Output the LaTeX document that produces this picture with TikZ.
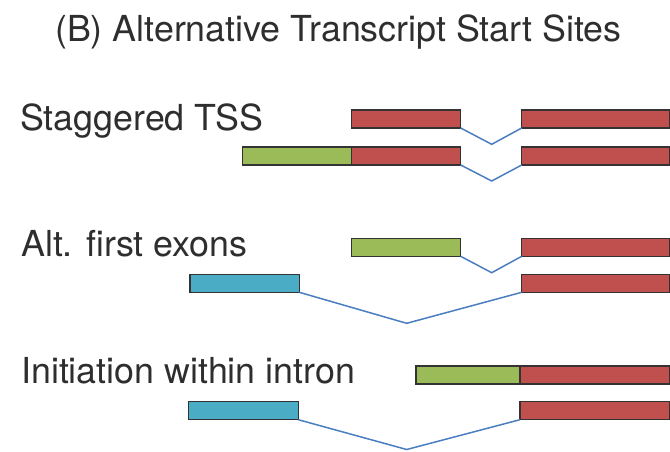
\documentclass[tikz,border=0pt]{standalone}
\usepackage{fontspec}
\setmainfont{TeX Gyre Heros}
\usetikzlibrary{positioning}
\definecolor{exonred}{HTML}{C0504D}
\definecolor{exongreen}{HTML}{9BBB59}
\definecolor{exonblue}{HTML}{4BACC6}
\definecolor{intronblue}{HTML}{4A7EC0}
\definecolor{textgray}{HTML}{2E2E2E}

\begin{document}
\begin{tikzpicture}[
  x=1pt, y=-1pt,
  exon/.style={rectangle, draw=black!80, line width=1.3pt, inner sep=0pt, outer sep=0pt,
    minimum height=18pt, anchor=north west},
  rowlabel/.style={font=\fontsize{35.8}{40}\selectfont, text=textgray, anchor=base west, inner sep=0pt},
  intron/.style={draw=intronblue, line width=1.5pt}
]
\useasboundingbox (0,0) rectangle (670,451);

\node[rowlabel] (title) at (55,41.7) {(B) Alternative Transcript Start Sites};

% staggered TSS
\node[rowlabel] (lstag) at (20,130) {Staggered TSS};
\node[exon, fill=exonred, minimum width=109pt] (s1a) at (351.7,110) {};
\node[exon, fill=exonred, minimum width=148.3pt] (s1r) at (521.7,110) {};
\node[exon, fill=exonred, minimum width=109pt] (s2a) at (351.7,147) {};
\node[exon, fill=exongreen, minimum width=109pt, left=0pt of s2a] (s2g) {};
\node[exon, fill=exonred, minimum width=148.3pt] (s2r) at (521.7,147) {};
\coordinate (s1v) at (491.7,144.3);
\coordinate (s2v) at (491.7,181);
\draw[intron] (s1a.south east) -- (s1v) -- (s1r.south west);
\draw[intron] (s2a.south east) -- (s2v) -- (s2r.south west);

% alternative first exons
\node[rowlabel] (lalt) at (21,256.7) {Alt. first exons};
\node[exon, fill=exongreen, minimum width=109pt] (a1g) at (351.7,238.3) {};
\node[exon, fill=exonred, minimum width=148.3pt] (a1r) at (521.7,238.3) {};
\node[exon, fill=exonblue, minimum width=109.3pt] (a2b) at (190,274.3) {};
\node[exon, fill=exonred, minimum width=148.3pt] (a2r) at (521.7,274.3) {};
\coordinate (a1v) at (491.7,272.7);
\coordinate (a2v) at (406.7,323.3);
\draw[intron] (a1g.south east) -- (a1v) -- (a1r.south west);
\draw[intron] (a2b.south east) -- (a2v) -- (a2r.south west);

% initiation within intron
\node[rowlabel] (lint) at (21,383.3) {Initiation within intron};
\node[exon, fill=exongreen, minimum width=104pt] (i1g) at (416,366) {};
\node[exon, fill=exonred, minimum width=150pt, right=0pt of i1g] (i1a) {};
\node[exon, fill=exonblue, minimum width=110pt] (i2b) at (188.3,401.7) {};
\node[exon, fill=exonred, minimum width=150pt] (i2r) at (520,401.7) {};
\coordinate (i2v) at (406.7,449.5);
\draw[intron] (i2b.south east) -- (i2v) -- (i2r.south west);
\end{tikzpicture}
\end{document}
